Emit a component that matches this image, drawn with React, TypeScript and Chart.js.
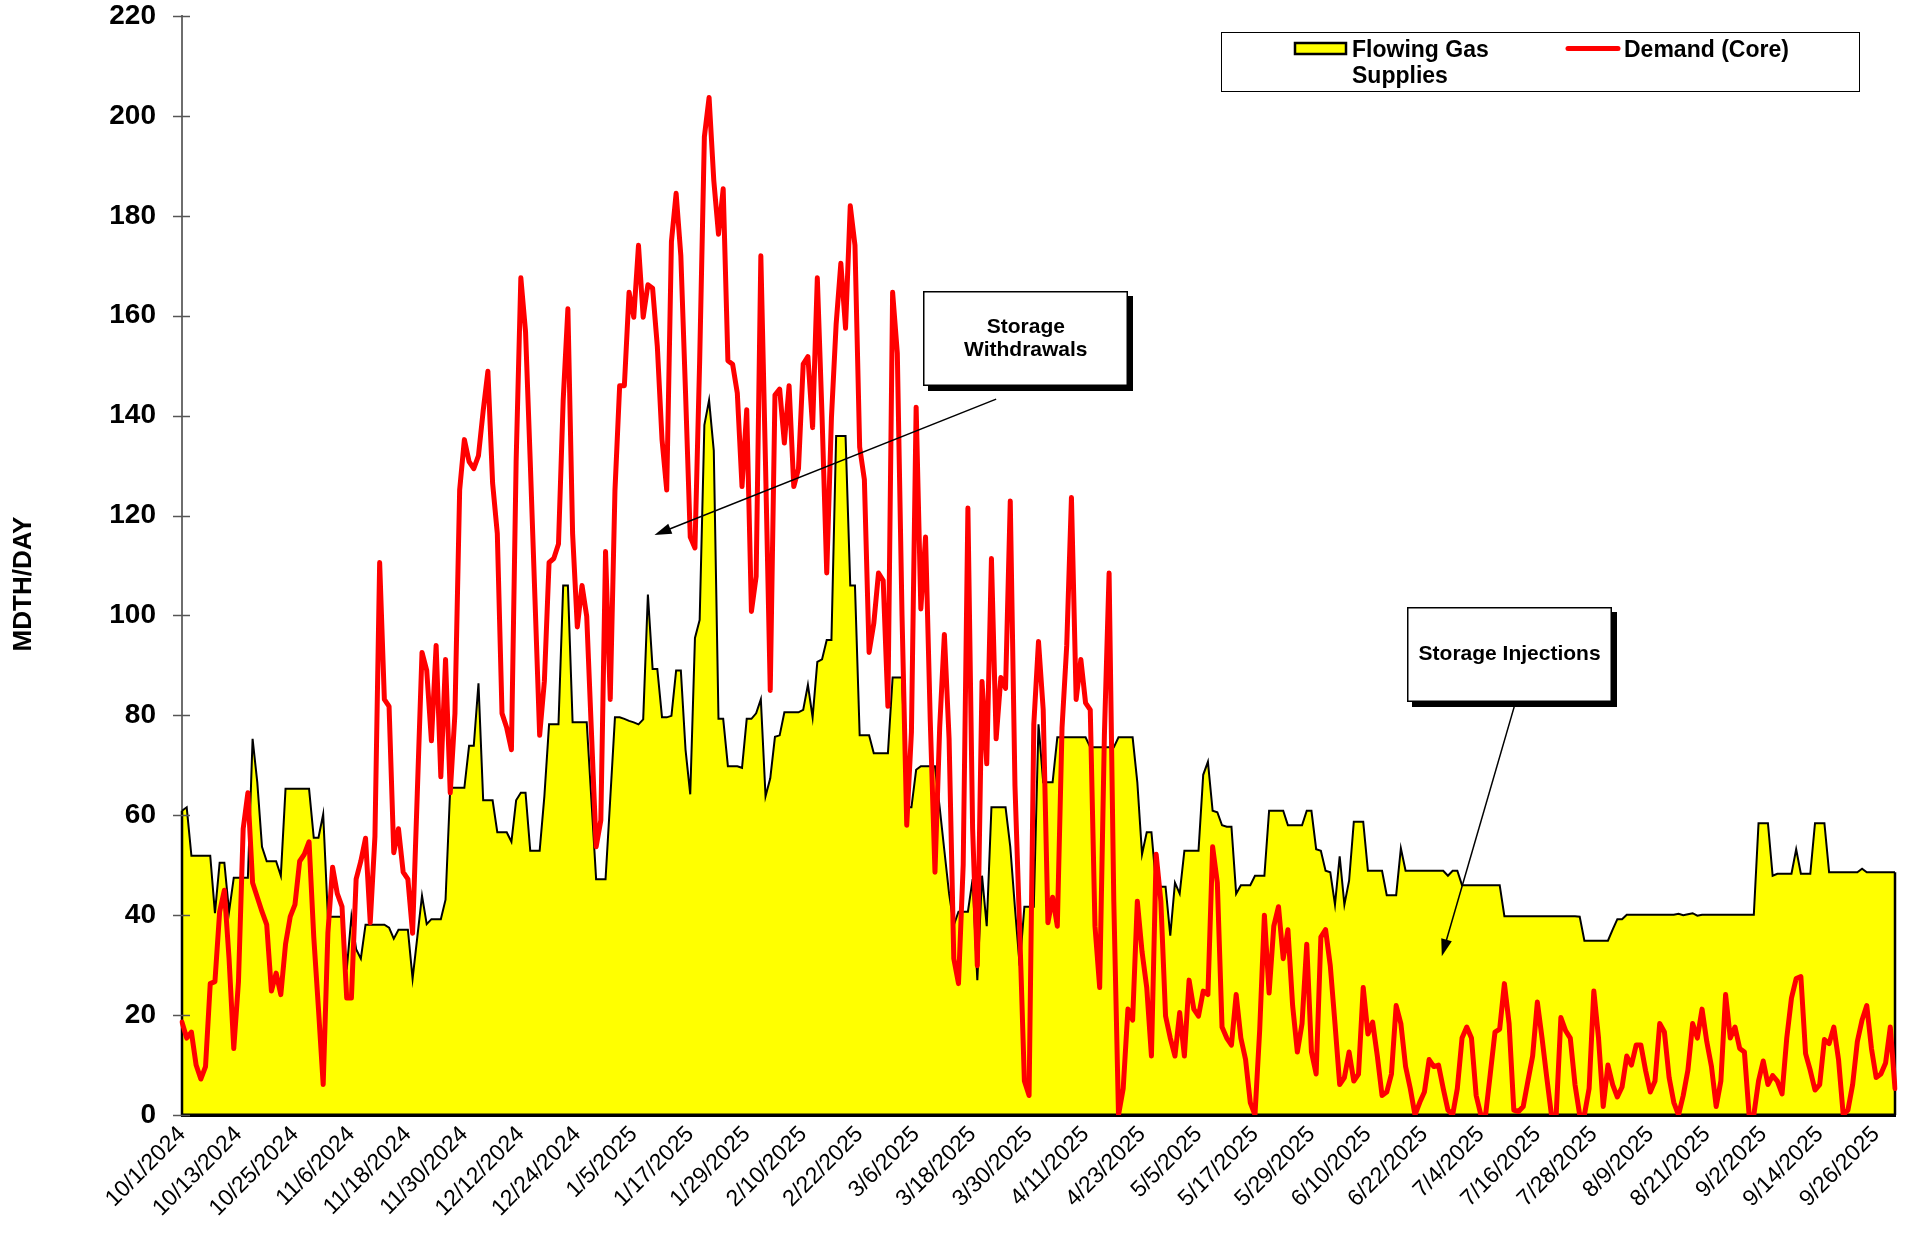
import React, { useEffect, useRef } from "react";
import { Chart, registerables } from "chart.js";

Chart.register(...registerables);

const FONT = '"Liberation Sans", Arial, Helvetica, sans-serif';

// ---- categories (one per day, 10/1/2024 .. 9/30/2025) ----
const FIRST_DAY = { year: 2024, month: 10, day: 1 };
const DAY_COUNT = 365;
function buildDays(): string[] {
  const out: string[] = [];
  const d = new Date(FIRST_DAY.year, FIRST_DAY.month - 1, FIRST_DAY.day, 12);
  for (let i = 0; i < DAY_COUNT; i++) {
    out.push(`${d.getMonth() + 1}/${d.getDate()}/${d.getFullYear()}`);
    d.setDate(d.getDate() + 1);
  }
  return out;
}
const days = buildDays();

// ---- tick labels shown on the x axis ----
const xTickLabels = [
  "10/1/2024", "10/13/2024", "10/25/2024", "11/6/2024", "11/18/2024", "11/30/2024",
  "12/12/2024", "12/24/2024", "1/5/2025", "1/17/2025", "1/29/2025", "2/10/2025",
  "2/22/2025", "3/6/2025", "3/18/2025", "3/30/2025", "4/11/2025", "4/23/2025",
  "5/5/2025", "5/17/2025", "5/29/2025", "6/10/2025", "6/22/2025", "7/4/2025",
  "7/16/2025", "7/28/2025", "8/9/2025", "8/21/2025", "9/2/2025", "9/14/2025", "9/26/2025",
];
const Y_MIN = 0;
const Y_MAX = 220;
const Y_STEP = 20;

// ---- series: Flowing Gas Supplies (MDTH/day) ----
const flowingGasSupplies = [
  60.9, 61.6, 51.9, 51.9, 51.9, 51.9, 51.9, 40.4, 50.5, 50.5,
  40.7, 47.5, 47.5, 47.5, 47.5, 75.3, 66.6, 53.7, 50.8, 50.8,
  50.8, 47.9, 65.3, 65.3, 65.3, 65.3, 65.3, 65.3, 55.5, 55.5,
  60.2, 39.7, 39.7, 39.7, 39.7, 29.1, 39.7, 33.2, 31.3, 38.1,
  38.1, 38.1, 38.1, 38.1, 37.5, 35.3, 37.1, 37.1, 37.1, 27.3,
  35.6, 43.9, 38.2, 39.2, 39.2, 39.2, 43.1, 65.5, 65.5, 65.5,
  65.5, 73.9, 73.9, 86.4, 63.0, 63.0, 63.0, 56.6, 56.6, 56.6,
  54.7, 63.0, 64.5, 64.5, 52.9, 52.9, 52.9, 63.8, 78.2, 78.2,
  78.2, 106.0, 106.0, 78.6, 78.6, 78.6, 78.6, 63.0, 47.2, 47.2,
  47.2, 63.3, 79.6, 79.6, 79.3, 78.9, 78.6, 78.2, 79.2, 104.2,
  89.3, 89.3, 79.6, 79.6, 79.9, 89.0, 89.0, 73.1, 64.2, 95.5,
  99.1, 138.1, 143.1, 133.0, 79.3, 79.3, 69.8, 69.8, 69.8, 69.5,
  79.3, 79.3, 80.4, 83.2, 63.8, 67.4, 75.7, 76.0, 80.6, 80.6,
  80.6, 80.6, 81.1, 86.1, 79.6, 90.7, 91.2, 95.1, 95.1, 135.9,
  135.9, 135.9, 106.0, 106.0, 76.0, 76.0, 76.0, 72.4, 72.4, 72.4,
  72.4, 87.6, 87.6, 87.6, 61.6, 61.6, 69.1, 69.8, 69.8, 69.8,
  69.8, 61.6, 52.9, 44.3, 38.0, 40.7, 40.7, 40.7, 47.2, 27.0,
  47.9, 37.8, 61.6, 61.6, 61.6, 61.6, 53.7, 41.4, 29.9, 41.7,
  41.7, 41.7, 78.2, 66.6, 66.6, 66.6, 75.6, 75.6, 75.6, 75.6,
  75.6, 75.6, 75.6, 73.6, 73.6, 73.6, 73.6, 73.6, 73.6, 75.6,
  75.6, 75.6, 75.6, 66.6, 52.2, 56.6, 56.6, 46.0, 45.7, 45.7,
  35.9, 46.5, 44.3, 52.9, 52.9, 52.9, 52.9, 68.1, 70.7, 60.9,
  60.6, 58.0, 57.7, 57.7, 44.3, 46.0, 46.0, 46.0, 47.9, 47.9,
  47.9, 60.9, 60.9, 60.9, 60.9, 58.0, 58.0, 58.0, 58.0, 60.9,
  60.9, 53.2, 52.9, 48.9, 48.6, 42.1, 51.8, 42.1, 46.9, 58.7,
  58.7, 58.7, 48.9, 48.9, 48.9, 48.9, 44.0, 44.0, 44.0, 53.4,
  48.9, 48.9, 48.9, 48.9, 48.9, 48.9, 48.9, 48.9, 48.9, 47.9,
  48.9, 48.9, 46.0, 46.0, 46.0, 46.0, 46.0, 46.0, 46.0, 46.0,
  46.0, 39.8, 39.8, 39.8, 39.8, 39.8, 39.8, 39.8, 39.8, 39.8,
  39.8, 39.8, 39.8, 39.8, 39.8, 39.8, 39.8, 39.7, 34.9, 34.9,
  34.9, 34.9, 34.9, 34.9, 37.1, 39.2, 39.2, 40.1, 40.1, 40.1,
  40.1, 40.1, 40.1, 40.1, 40.1, 40.1, 40.1, 40.1, 40.3, 40.0,
  40.2, 40.4, 39.9, 40.1, 40.1, 40.1, 40.1, 40.1, 40.1, 40.1,
  40.1, 40.1, 40.1, 40.1, 40.1, 58.4, 58.4, 58.4, 47.9, 48.3,
  48.3, 48.3, 48.3, 53.2, 48.3, 48.3, 48.3, 58.4, 58.4, 58.4,
  48.6, 48.6, 48.6, 48.6, 48.6, 48.6, 48.6, 49.3, 48.6, 48.6,
  48.6, 48.6, 48.6, 48.6, 48.6,
];

// ---- series: Demand (Core) (MDTH/day) ----
const demandCore = [
  18.6, 15.4, 16.6, 10.0, 7.2, 9.7, 26.3, 26.7, 40.7, 45.0,
  31.3, 13.3, 26.7, 57.3, 64.5, 46.5, 43.6, 40.7, 38.1, 24.8,
  28.4, 24.1, 34.2, 39.7, 42.1, 50.8, 52.2, 54.7, 35.6, 21.2,
  6.1, 36.4, 49.6, 44.3, 41.7, 23.4, 23.4, 47.2, 50.8, 55.4,
  38.5, 55.8, 110.6, 83.2, 81.8, 52.5, 57.3, 48.6, 47.2, 36.4,
  64.5, 92.6, 89.0, 74.9, 94.0, 67.7, 91.2, 64.5, 80.4, 125.1,
  135.2, 130.8, 129.4, 132.0, 141.0, 148.9, 126.5, 116.4, 80.4, 77.5,
  73.1, 130.8, 167.6, 156.8, 130.8, 103.4, 76.0, 86.8, 110.6, 111.4,
  114.3, 143.1, 161.4, 116.4, 97.7, 106.0, 99.8, 76.7, 53.7, 59.0,
  112.8, 83.2, 125.0, 146.0, 146.0, 164.7, 159.7, 174.1, 159.7, 166.2,
  165.5, 153.9, 135.2, 125.1, 174.8, 184.5, 172.0, 144.5, 115.7, 113.5,
  151.0, 195.8, 203.7, 187.1, 176.3, 185.4, 151.0, 150.3, 144.5, 125.8,
  141.2, 100.8, 107.8, 172.0, 130.0, 85.0, 144.1, 145.3, 134.5, 146.0,
  125.8, 129.4, 150.3, 151.8, 137.6, 167.6, 140.0, 108.5, 139.5, 158.3,
  170.5, 157.5, 182.0, 174.1, 133.7, 127.2, 92.6, 98.4, 108.5, 107.0,
  81.8, 164.7, 152.5, 100.0, 58.0, 76.7, 141.7, 101.3, 115.7, 78.9,
  48.6, 77.5, 96.2, 75.3, 31.3, 26.3, 50.1, 121.5, 57.3, 29.9,
  86.8, 70.3, 111.4, 75.3, 87.6, 85.4, 122.9, 65.9, 37.1, 6.8,
  3.9, 78.2, 94.8, 81.1, 38.5, 43.6, 37.8, 77.5, 94.0, 123.6,
  83.2, 91.2, 82.5, 81.1, 37.8, 25.5, 76.0, 108.5, 42.8, 0,
  5.3, 21.2, 19.0, 42.8, 32.7, 25.5, 11.8, 52.2, 42.8, 19.8,
  15.4, 11.8, 20.5, 11.8, 27.0, 21.2, 19.8, 24.8, 24.1, 53.7,
  46.5, 17.6, 15.4, 14.0, 24.1, 15.4, 11.1, 2.5, 0, 17.0,
  40.0, 24.4, 37.8, 41.7, 31.3, 37.1, 21.9, 12.6, 18.3, 34.2,
  12.6, 8.2, 35.6, 37.1, 29.9, 18.3, 6.1, 7.5, 12.6, 6.8,
  8.2, 25.5, 16.2, 18.6, 11.8, 3.9, 4.6, 8.2, 21.9, 18.3,
  9.7, 5.3, 0, 2.5, 4.6, 11.1, 9.7, 10.0, 5.3, 1.0,
  0, 5.3, 15.4, 17.6, 15.4, 3.9, 0, 0, 8.2, 16.6,
  17.2, 26.3, 18.3, 1.0, 0.7, 1.7, 6.8, 11.8, 22.6, 15.4,
  7.5, 0, 0, 19.5, 16.9, 15.4, 6.1, 0, 0, 5.3,
  24.8, 15.4, 1.7, 10.0, 6.1, 3.6, 5.6, 11.8, 10.0, 14.0,
  14.0, 8.9, 4.6, 6.8, 18.3, 16.6, 7.5, 2.5, 0, 3.9,
  9.0, 18.3, 15.4, 21.2, 14.7, 9.7, 1.7, 6.8, 24.1, 15.4,
  17.6, 13.3, 12.6, 0, 0, 6.8, 10.8, 6.1, 7.9, 6.8,
  4.2, 15.4, 23.4, 27.3, 27.7, 12.3, 8.9, 5.0, 6.1, 15.1,
  14.3, 17.6, 11.1, 0, 1.0, 6.1, 14.7, 19.0, 21.9, 13.3,
  7.5, 8.2, 10.4, 17.6, 5.3,
];

// ---- annotation callouts (anchored in data units: day index / MDTH) ----
const callouts = [
  { lines: ["Storage", "Withdrawals"], boxDay: 179.3, boxValue: 155.4, tailDay: 173.0, tailValue: 143.3, headDay: 100.4, headValue: 116.1 },
  { lines: ["Storage Injections"], boxDay: 282.1, boxValue: 92.2, tailDay: 283.2, tailValue: 82.1, headDay: 267.7, headValue: 31.8 },
];

const tickSet = new Set(xTickLabels);

function drawArrow(ctx: CanvasRenderingContext2D, x1: number, y1: number, x2: number, y2: number) {
  const ang = Math.atan2(y2 - y1, x2 - x1);
  const len = 17;
  const half = 5.5;
  ctx.beginPath();
  ctx.moveTo(x1, y1);
  ctx.lineTo(x2 - Math.cos(ang) * len * 0.8, y2 - Math.sin(ang) * len * 0.8);
  ctx.stroke();
  ctx.beginPath();
  ctx.moveTo(x2, y2);
  ctx.lineTo(x2 - Math.cos(ang) * len - Math.sin(ang) * half, y2 - Math.sin(ang) * len + Math.cos(ang) * half);
  ctx.lineTo(x2 - Math.cos(ang) * len + Math.sin(ang) * half, y2 - Math.sin(ang) * len - Math.cos(ang) * half);
  ctx.closePath();
  ctx.fill();
}

const decor = {
  id: "decor",
  afterDatasetDraw(chart: any, args: any) {
    if (args.index !== 0) return;
    const pts = args.meta.data;
    if (!pts || !pts.length) return;
    const ctx: CanvasRenderingContext2D = chart.ctx;
    const y0 = chart.scales.y.getPixelForValue(0);
    const f = pts[0];
    const l = pts[pts.length - 1];
    ctx.save();
    ctx.strokeStyle = "#000";
    ctx.lineWidth = 2.5;
    ctx.beginPath();
    ctx.moveTo(f.x, y0);
    ctx.lineTo(f.x, f.y);
    ctx.moveTo(l.x, y0);
    ctx.lineTo(l.x, l.y);
    ctx.stroke();
    ctx.lineWidth = 3;
    ctx.beginPath();
    ctx.moveTo(chart.chartArea.left, y0);
    ctx.lineTo(chart.chartArea.right, y0);
    ctx.stroke();
    ctx.restore();
  },
  afterDraw(chart: any) {
    const ctx: CanvasRenderingContext2D = chart.ctx;
    const xs = chart.scales.x;
    const ys = chart.scales.y;
    const area = chart.chartArea;
    ctx.save();

    // crossing tick marks on the value axis
    ctx.strokeStyle = "#555";
    ctx.lineWidth = 1.5;
    ys.ticks.forEach((t: any) => {
      const y = Math.round(ys.getPixelForValue(t.value)) + 0.5;
      ctx.beginPath();
      ctx.moveTo(area.left - 9, y);
      ctx.lineTo(area.left + 8, y);
      ctx.stroke();
    });

    // value-axis title
    ctx.save();
    ctx.translate(24, 584);
    ctx.rotate(-Math.PI / 2);
    ctx.fillStyle = "#000";
    ctx.font = `bold 26px ${FONT}`;
    ctx.textAlign = "center";
    ctx.textBaseline = "middle";
    ctx.fillText("MDTH/DAY", 0, 0);
    ctx.restore();

    // legend
    const ds = chart.data.datasets;
    ctx.fillStyle = "#fff";
    ctx.fillRect(1221, 32, 639, 60);
    ctx.strokeStyle = "#000";
    ctx.lineWidth = 1;
    ctx.strokeRect(1221.5, 32.5, 638, 59);
    ctx.fillStyle = ds[0].backgroundColor;
    ctx.fillRect(1295, 43, 51, 11);
    ctx.lineWidth = 2.5;
    ctx.strokeStyle = ds[0].borderColor;
    ctx.strokeRect(1295, 43, 51, 11);
    ctx.strokeStyle = ds[1].borderColor;
    ctx.lineWidth = 5;
    ctx.lineCap = "round";
    ctx.beginPath();
    ctx.moveTo(1568, 48.5);
    ctx.lineTo(1618, 48.5);
    ctx.stroke();
    ctx.lineCap = "butt";
    ctx.fillStyle = "#000";
    ctx.font = `bold 23px ${FONT}`;
    ctx.textAlign = "left";
    ctx.textBaseline = "alphabetic";
    ctx.fillText("Flowing Gas", 1352, 57);
    ctx.fillText("Supplies", 1352, 83);
    ctx.fillText(ds[1].label, 1624, 57);

    // callouts
    callouts.forEach((c) => {
      const cx = xs.getPixelForValue(c.boxDay);
      const cy = ys.getPixelForValue(c.boxValue);
      const w = 205;
      const h = 95;
      const bx = Math.round(cx - w / 2);
      const by = Math.round(cy - h / 2);
      ctx.lineWidth = 1.5;
      ctx.strokeStyle = "#000";
      ctx.fillStyle = "#000";
      drawArrow(ctx, xs.getPixelForValue(c.tailDay), ys.getPixelForValue(c.tailValue), xs.getPixelForValue(c.headDay), ys.getPixelForValue(c.headValue));
      ctx.fillStyle = "#000";
      ctx.fillRect(bx + 5, by + 5, w, h);
      ctx.fillStyle = "#fff";
      ctx.fillRect(bx, by, w, h);
      ctx.strokeStyle = "#000";
      ctx.lineWidth = 1.5;
      ctx.strokeRect(bx + 0.75, by + 0.75, w - 1.5, h - 1.5);
      ctx.fillStyle = "#000";
      ctx.font = `bold 21px ${FONT}`;
      ctx.textAlign = "center";
      ctx.textBaseline = "middle";
      const lh = 23;
      const y0 = cy - ((c.lines.length - 1) * lh) / 2;
      c.lines.forEach((ln, i) => ctx.fillText(ln, cx, y0 + i * lh));
    });

    ctx.restore();
  },
};

export default function App() {
  const ref = useRef<HTMLCanvasElement>(null);
  useEffect(() => {
    const canvas = ref.current;
    if (!canvas) return;
    const chart = new Chart(canvas, {
      type: "line",
      data: {
        labels: days,
        datasets: [
          {
            label: "Flowing Gas Supplies",
            data: flowingGasSupplies,
            borderColor: "#000000",
            borderWidth: 2,
            backgroundColor: "#FFFF00",
            fill: "origin",
            pointRadius: 0,
            tension: 0,
            order: 2,
          },
          {
            label: "Demand (Core)",
            data: demandCore,
            borderColor: "#FF0000",
            backgroundColor: "#FF0000",
            borderWidth: 5,
            fill: false,
            pointRadius: 0,
            tension: 0,
            order: 1,
            borderJoinStyle: "round",
            borderCapStyle: "round",
          },
        ],
      },
      options: {
        responsive: false,
        animation: false,
        devicePixelRatio: 1,
        layout: { padding: { left: 0, right: 10, top: 16, bottom: 0 } },
        plugins: { legend: { display: false }, tooltip: { enabled: false } },
        scales: {
          x: {
            type: "category",
            grid: { display: false, drawTicks: false },
            border: { display: true, color: "#000", width: 3 },
            ticks: {
              autoSkip: false,
              maxRotation: 45,
              minRotation: 45,
              padding: 6,
              color: "#000",
              font: { family: FONT, size: 23 },
              callback: (_v: any, i: number) => (tickSet.has(days[i]) ? days[i] : ""),
            },
            afterFit: (s: any) => {
              s.height = 118;
              s.paddingLeft = 0;
              s.paddingRight = 0;
            },
          },
          y: {
            min: Y_MIN,
            max: Y_MAX,
            grid: { display: false, drawTicks: false },
            border: { display: true, color: "#6e6e6e", width: 2 },
            ticks: {
              stepSize: Y_STEP,
              padding: 26,
              color: "#000",
              font: { family: FONT, size: 28, weight: "bold" },
            },
            afterFit: (s: any) => {
              s.width = 182;
              s.paddingTop = 0;
              s.paddingBottom = 0;
            },
          },
        },
      },
      plugins: [decor],
    } as any);
    return () => chart.destroy();
  }, []);
  return (
    <div style={{ position: "fixed", left: 0, top: 0, width: 1905, height: 1233, background: "#fff" }}>
      <canvas ref={ref} width={1905} height={1233} style={{ display: "block" }} />
    </div>
  );
}
